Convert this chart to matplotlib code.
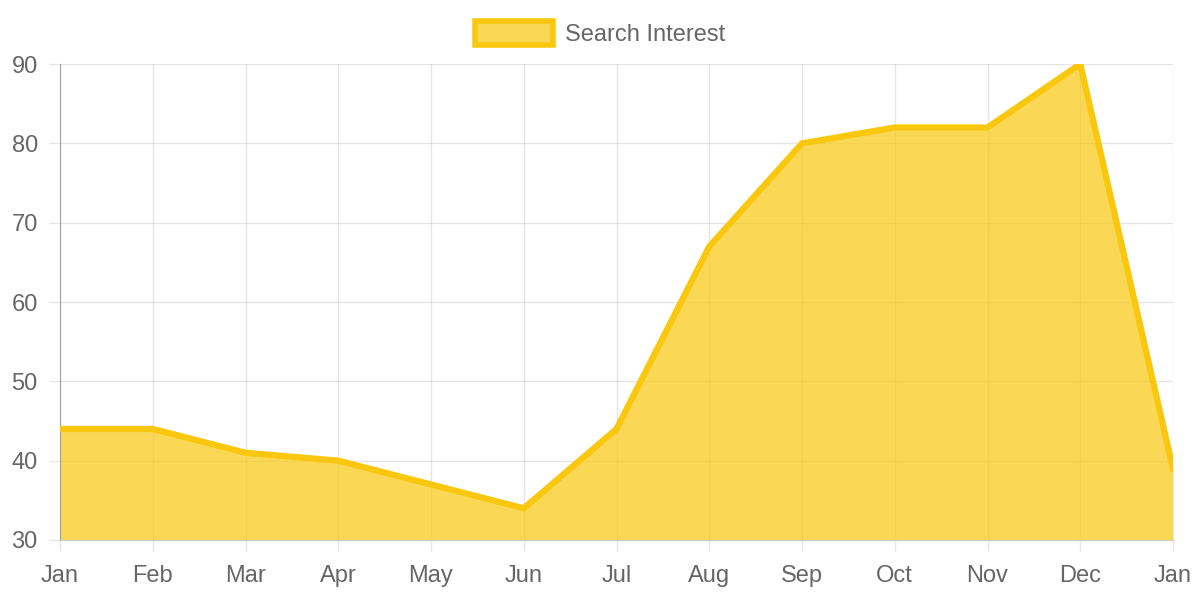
import matplotlib.pyplot as plt

plt.rcParams['font.family'] = ['Liberation Sans', 'DejaVu Sans']

months = ['Jan', 'Feb', 'Mar', 'Apr', 'May', 'Jun', 'Jul', 'Aug', 'Sep', 'Oct', 'Nov', 'Dec', 'Jan']
interest = [44, 44, 41, 40, 37, 34, 44, 67, 80, 82, 82, 90, 39]
y_ticks = [30, 40, 50, 60, 70, 80, 90]

line_color = '#F9C80E'
text_color = '#666666'

fig = plt.figure(figsize=(12, 6), dpi=100)
ax = fig.add_axes([0.05, 0.1, 0.9275, 0.7933])

x = list(range(len(months)))
ax.fill_between(x, interest, 30, color=line_color, alpha=0.7, linewidth=0, zorder=2)
ax.plot(x, interest, color=line_color, linewidth=4.5, solid_joinstyle='miter', zorder=3)

ax.set_xlim(0, len(months) - 1)
ax.set_ylim(30, 90)
ax.set_xticks(x)
ax.set_xticklabels(months)
ax.set_yticks(y_ticks)

# chart.js style grid: rgba(0,0,0,0.1) drawn over the fill
ax.grid(True, color='black', alpha=0.1, linewidth=1)
for gl in ax.get_xgridlines() + ax.get_ygridlines():
    gl.set_zorder(2.5)

ax.tick_params(axis='both', colors='#e6e6e6', labelcolor=text_color, labelsize=17, length=8, width=1)
ax.tick_params(axis='x', pad=10)
ax.tick_params(axis='y', pad=8)

for side in ['top', 'right']:
    ax.spines[side].set_visible(False)
ax.spines['bottom'].set_color('#cccccc')
ax.spines['left'].set_color('#a0a0a0')

# legend box like chart.js
handle = plt.Rectangle((0, 0), 1, 1, facecolor=(249/255, 200/255, 14/255, 0.7),
                       edgecolor=line_color, linewidth=4)
fig.legend([handle], ['Search Interest'], loc='upper center', bbox_to_anchor=(0.5, 1.0),
           frameon=False, fontsize=17, labelcolor=text_color, handlelength=3.3,
           handleheight=1.2, handletextpad=0.5)

fig.savefig('out.png', dpi=100)
